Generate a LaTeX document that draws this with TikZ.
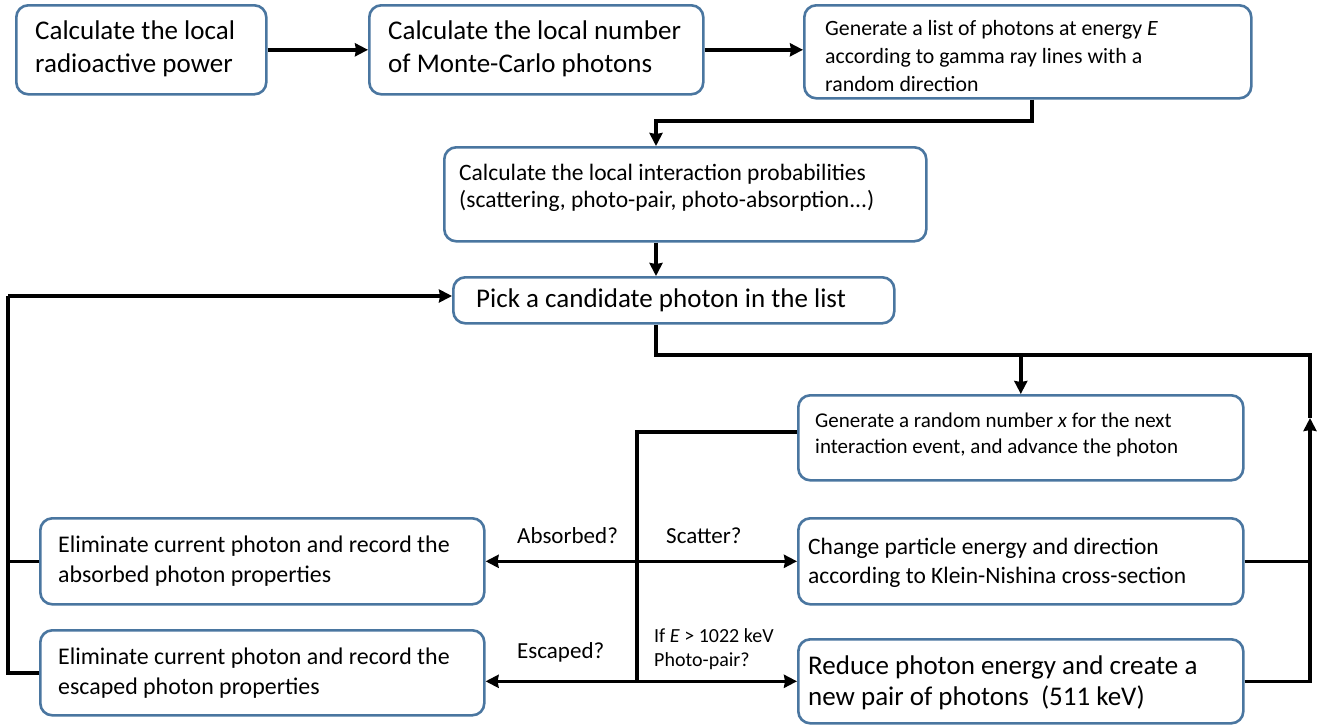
\documentclass[tikz,border=0pt]{standalone}
\usepackage{fontspec}
\setmainfont{Carlito}
\usetikzlibrary{arrows.meta}
\definecolor{boxblue}{HTML}{4A76A0}
\tikzset{
  box/.style={draw=boxblue, line width=2.6pt, rounded corners=12pt, fill=white,
    anchor=north west, inner xsep=0pt, inner ysep=0pt, align=left},
  txt/.style={anchor=west, align=left, inner sep=0pt},
  conn/.style={line width=3.5pt, black},
  arr/.style={conn, -{Stealth[length=13pt,width=13pt,inset=1pt]}},
  lbl/.style={font=\fontsize{23}{27}\selectfont, inner sep=0pt, anchor=base west},
}
\begin{document}
\begin{tikzpicture}[x=1pt,y=-1pt]
\useasboundingbox (0,0) rectangle (1322,726);
% boxes
\node[box, minimum width=250pt, minimum height=89pt] (A) at (15,4) {};
\node[txt, font=\fontsize{27}{33}\selectfont] (tA) at ([xshift=20pt,yshift=1pt]A.west) {Calculate the local\\radioactive power};
\node[box, minimum width=334pt, minimum height=89pt] (B) at (368,4) {};
\node[txt, font=\fontsize{27}{33}\selectfont] (tB) at ([xshift=20pt,yshift=1pt]B.west) {Calculate the local number\\of Monte-Carlo photons};
\node[box, minimum width=447pt, minimum height=93pt] (C) at (803,4) {};
\node[txt, font=\fontsize{21.8}{28}\selectfont] (tC) at ([xshift=22pt,yshift=-4pt]C.west) {Generate a list of photons at energy \textit{E}\\according to gamma ray lines with a\\random direction};
\node[box, minimum width=482pt, minimum height=94pt] (D) at (443,146) {};
\node[txt, font=\fontsize{23.5}{27}\selectfont] (tD) at ([xshift=16pt,yshift=6pt]D.west) {Calculate the local interaction probabilities\\(scattering, photo-pair, photo-absorption...)};
\node[box, minimum width=441pt, minimum height=46pt] (E) at (452,276) {};
\node[txt, font=\fontsize{27}{33}\selectfont] (tE) at ([xshift=24pt,yshift=0pt]E.west) {Pick a candidate photon in the list};
\node[box, minimum width=445pt, minimum height=85pt] (F) at (797,394) {};
\node[txt, font=\fontsize{21}{26}\selectfont] (tF) at ([xshift=18pt,yshift=3pt]F.west) {Generate a random number \textit{x} for the next\\interaction event, and advance the photon};
\node[box, minimum width=444pt, minimum height=86pt] (G) at (39,517) {};
\node[txt, font=\fontsize{23.9}{30}\selectfont] (tG) at ([xshift=19pt,yshift=0pt]G.west) {Eliminate current photon and record the\\absorbed photon properties};
\node[box, minimum width=445pt, minimum height=86pt] (H) at (797,517) {};
\node[txt, font=\fontsize{23.5}{29}\selectfont] (tH) at ([xshift=11pt,yshift=-2pt]H.west) {Change particle energy and direction\\according to Klein-Nishina cross-section};
\node[box, minimum width=444pt, minimum height=85pt] (I) at (39,629) {};
\node[txt, font=\fontsize{23.9}{30}\selectfont] (tI) at ([xshift=19pt,yshift=0pt]I.west) {Eliminate current photon and record the\\escaped photon properties};
\node[box, minimum width=445pt, minimum height=84pt] (J) at (797,638) {};
\node[txt, font=\fontsize{27}{31}\selectfont] (tJ) at ([xshift=11pt,yshift=-1pt]J.west) {Reduce photon energy and create a\\new pair of photons~ (511 keV)};
% coordinates
\coordinate (c1) at (656,121);
\coordinate (top) at (656,355);
\coordinate (rr) at (1310,355);
\coordinate (rarr) at (1310,418);
\coordinate (v) at (637,432);
\coordinate (L) at (8,296);
% connectors
\draw[arr] (A.east) -- (B.west);
\draw[arr] (B.east) -- (B.east -| C.west);
\draw[arr] (C.south -| 1032,0) |- (c1) -- (c1 |- D.north);
\draw[arr] (D.south -| c1) -- (E.north -| c1);
\draw[arr] (E.south -| c1) |- (F.north |- top) -- (F.north);
\draw[conn] (F.north |- top) -- (rr) -- (rarr);
\draw[arr] (J.east) -| (rarr);
\draw[conn] (H.east) -- (H.east -| rr);
\draw[conn] (F.west |- v) -- (v) -- (v |- J.west);
\draw[arr] (v |- G.east) -- (G.east);
\draw[arr] (v |- H.west) -- (H.west);
\draw[arr] (v |- J.west) -- (J.west -| I.east);
\draw[arr] (v |- J.west) -- (J.west);
\draw[conn] (G.west) -- (G.west -| L);
\draw[conn] (I.west) -- (I.west -| L) -- (L);
\draw[arr] (L) -- (L -| E.west);
% labels
\node[lbl] (la) at (517,543) {Absorbed?};
\node[lbl] (ls) at (666,543) {Scatter?};
\node[lbl] (le) at (517,658) {Escaped?};
\node[txt, font=\fontsize{20}{24}\selectfont] (lp) at (654,649) {If \textit{E} > 1022 keV\\Photo-pair?};
\end{tikzpicture}
\end{document}
